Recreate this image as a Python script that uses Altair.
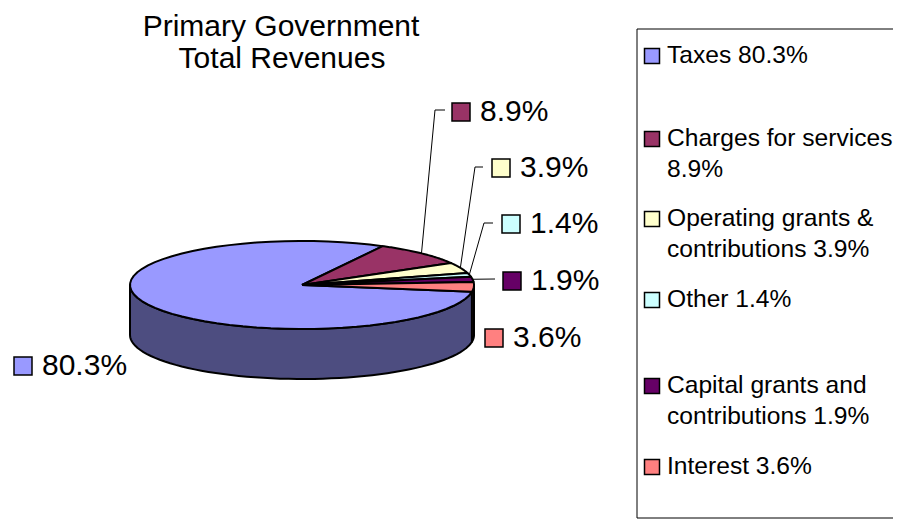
import altair as alt
import pandas as pd

# ---------------- data ----------------
categories = ["Taxes", "Charges for services", "Operating grants & contributions",
              "Other", "Capital grants and contributions", "Interest"]
values = [80.3, 8.9, 3.9, 1.4, 1.9, 3.6]
pct_labels = ["80.3%", "8.9%", "3.9%", "1.4%", "1.9%", "3.6%"]
legend_line1 = ["Taxes 80.3%", "Charges for services", "Operating grants &",
                "Other 1.4%", "Capital grants and", "Interest 3.6%"]
legend_line2 = ["", "8.9%", "contributions 3.9%", "", "contributions 1.9%", ""]
title_lines = ["Primary Government", "Total Revenues"]

# ---------------- styles ----------------
top_colors = ["#9999FF", "#993366", "#FFFFCC", "#CCFFFF", "#660066", "#FF8080"]
side_colors = ["#4D4D80", "#4D1A33", "#808066", "#668080", "#330033", "#804040"]
FONT = "Liberation Sans"

# ---------------- layout (page pixels) ----------------
CX, CY, RX, RY, DEPTH = 302, 285, 172, 44, 50
START_DEG = -8.9
N = 60
label_sq_x = [23, 461, 501, 511, 512, 494]
label_sq_y = [366, 112, 168, 224, 281, 338]
LABEL_GAP = 19
leader_cats = categories[1:5]
leader_elbow = [(435, 110), (475, 167), (484, 223), (495, 279)]
leader_end = [(445, 110), (483, 167), (493, 223), (495, 279)]
legend_sq_y = [56, 139, 219, 300, 386, 467]
LEG_SQ_X, LEG_TX, LEG_LH = 652, 667, 31
LEG_FONT = 24.6
LEG_LEFT, LEG_TOP, LEG_BOTTOM, LEG_RIGHT = 637, 29, 518, 893
title_xy = [(281, 35.5), (282, 68)]

xs = alt.Scale(domain=[8, 893], nice=False, zero=False)
ys = alt.Scale(domain=[519, 8], nice=False, zero=False)
top_scale = alt.Scale(domain=categories, range=top_colors)
side_scale = alt.Scale(domain=categories, range=side_colors)

slices_df = pd.DataFrame({"cat": categories, "value": values, "order": list(range(len(values)))})


def slice_base():
    return alt.Chart(slices_df).transform_window(
        cum="sum(value)", sort=[alt.SortField("order")], frame=[None, 0]
    ).transform_calculate(
        a0=f"{START_DEG} - (datum.cum - datum.value) * 3.6",
        a1=f"{START_DEG} - datum.cum * 3.6",
    )


def XY():
    return dict(x=alt.X("px:Q", scale=xs, axis=None), y=alt.Y("py:Q", scale=ys, axis=None))


# side walls (front visible part)
walls = slice_base().transform_calculate(
    h1="min(datum.a0, 0)", l1="max(datum.a1, -180)",
    h2="min(datum.a0, -360)", l2="max(datum.a1, -540)",
).transform_calculate(
    hi="datum.h1 > datum.l1 ? datum.h1 : datum.h2",
    lo="datum.h1 > datum.l1 ? datum.l1 : datum.l2",
).transform_filter("datum.hi > datum.lo").transform_calculate(
    k=f"sequence(0, {2 * N + 3})"
).transform_flatten(["k"]).transform_calculate(
    ang=f"(datum.k <= {N} ? datum.hi + (datum.lo - datum.hi) * datum.k / {N} : "
        f"(datum.k <= {2 * N + 1} ? datum.lo + (datum.hi - datum.lo) * (datum.k - {N + 1}) / {N} : datum.hi)) * PI / 180",
    px=f"{CX} + {RX} * cos(datum.ang)",
    py=f"{CY} - {RY} * sin(datum.ang) + ((datum.k > {N} && datum.k <= {2 * N + 1}) ? {DEPTH} : 0)",
).mark_line(filled=True, stroke="black", strokeWidth=2, strokeJoin="round").encode(
    **XY(), order="k:Q", detail="cat:N",
    fill=alt.Fill("cat:N", scale=side_scale, legend=None),
)

# top faces
tops = slice_base().transform_calculate(
    k=f"sequence(-1, {N + 2})"
).transform_flatten(["k"]).transform_calculate(
    ang=f"(datum.a0 + (datum.a1 - datum.a0) * clamp(datum.k, 0, {N}) / {N}) * PI / 180",
    px=f"(datum.k < 0 || datum.k > {N}) ? {CX} : {CX} + {RX} * cos(datum.ang)",
    py=f"(datum.k < 0 || datum.k > {N}) ? {CY} : {CY} - {RY} * sin(datum.ang)",
).mark_line(filled=True, stroke="black", strokeWidth=2, strokeJoin="round").encode(
    **XY(), order="k:Q", detail="cat:N",
    fill=alt.Fill("cat:N", scale=top_scale, legend=None),
)

# leader lines
leader_rows = []
for c, e, f in zip(leader_cats, leader_elbow, leader_end):
    leader_rows.append({"key": f"{c}|1", "lx": e[0], "ly": e[1]})
    leader_rows.append({"key": f"{c}|2", "lx": f[0], "ly": f[1]})
leader_df = pd.DataFrame(leader_rows)

leaders = slice_base().transform_filter(
    alt.FieldOneOfPredicate(field="cat", oneOf=leader_cats)
).transform_calculate(
    mid=f"({START_DEG} - (datum.cum - datum.value / 2) * 3.6) * PI / 180",
    k="sequence(0, 3)",
).transform_flatten(["k"]).transform_calculate(
    key="datum.cat + '|' + datum.k"
).transform_lookup(
    lookup="key", from_=alt.LookupData(leader_df, "key", ["lx", "ly"])
).transform_calculate(
    px=f"datum.k == 0 ? {CX} + {RX} * cos(datum.mid) : datum.lx",
    py=f"datum.k == 0 ? {CY} - {RY} * sin(datum.mid) : datum.ly",
).mark_line(color="black", strokeWidth=1).encode(**XY(), order="k:Q", detail="cat:N")

# data labels
lab_df = pd.DataFrame({"cat": categories, "label": pct_labels,
                       "px": label_sq_x, "py": label_sq_y,
                       "tx": [v + LABEL_GAP for v in label_sq_x]})
lab_sq = alt.Chart(lab_df).mark_square(size=324, opacity=1, stroke="black", strokeWidth=1.5).encode(
    **XY(), fill=alt.Fill("cat:N", scale=top_scale, legend=None))
lab_tx = alt.Chart(lab_df).mark_text(align="left", baseline="middle", font=FONT, fontSize=30,
                                     color="black").encode(
    x=alt.X("tx:Q", scale=xs, axis=None), y=alt.Y("py:Q", scale=ys, axis=None), text="label:N")

# legend frame (left, top, bottom edges; right edge lies beyond the page)
frame_df = pd.DataFrame([
    {"x1": LEG_LEFT, "y1": LEG_TOP, "x2": LEG_RIGHT, "y2": LEG_TOP},
    {"x1": LEG_LEFT, "y1": LEG_BOTTOM, "x2": LEG_RIGHT, "y2": LEG_BOTTOM},
    {"x1": LEG_LEFT, "y1": LEG_TOP, "x2": LEG_LEFT, "y2": LEG_BOTTOM},
])
leg_frame = alt.Chart(frame_df).mark_rule(color="black", strokeWidth=1).encode(
    x=alt.X("x1:Q", scale=xs, axis=None), x2="x2:Q",
    y=alt.Y("y1:Q", scale=ys, axis=None), y2="y2:Q")
leg_df = pd.DataFrame({"cat": categories, "py": legend_sq_y, "px": [LEG_SQ_X] * 6})
leg_sq = alt.Chart(leg_df).mark_square(size=225, opacity=1, stroke="black", strokeWidth=1.5).encode(
    **XY(), fill=alt.Fill("cat:N", scale=top_scale, legend=None))
leg_rows = []
for l1, l2, yv in zip(legend_line1, legend_line2, legend_sq_y):
    leg_rows.append({"t": l1, "px": LEG_TX, "py": yv})
    if l2:
        leg_rows.append({"t": l2, "px": LEG_TX, "py": yv + LEG_LH})
leg_tx = alt.Chart(pd.DataFrame(leg_rows)).mark_text(
    align="left", baseline="middle", font=FONT, fontSize=LEG_FONT, color="black").encode(**XY(), text="t:N")

# title
title_df = pd.DataFrame({"t": title_lines, "px": [p[0] for p in title_xy], "py": [p[1] for p in title_xy]})
title = alt.Chart(title_df).mark_text(align="center", baseline="alphabetic", font=FONT, fontSize=30,
                                      color="black").encode(**XY(), text="t:N")

chart = alt.layer(
    leg_frame, walls, tops, leaders, lab_sq, lab_tx, leg_sq, leg_tx, title
).resolve_scale(fill="independent").properties(
    width=885, height=511, padding=0,
    autosize=alt.AutoSizeParams(type="none"),
).configure_view(stroke=None)

chart.save("out.html", embed_options={"renderer": "svg", "actions": False})
